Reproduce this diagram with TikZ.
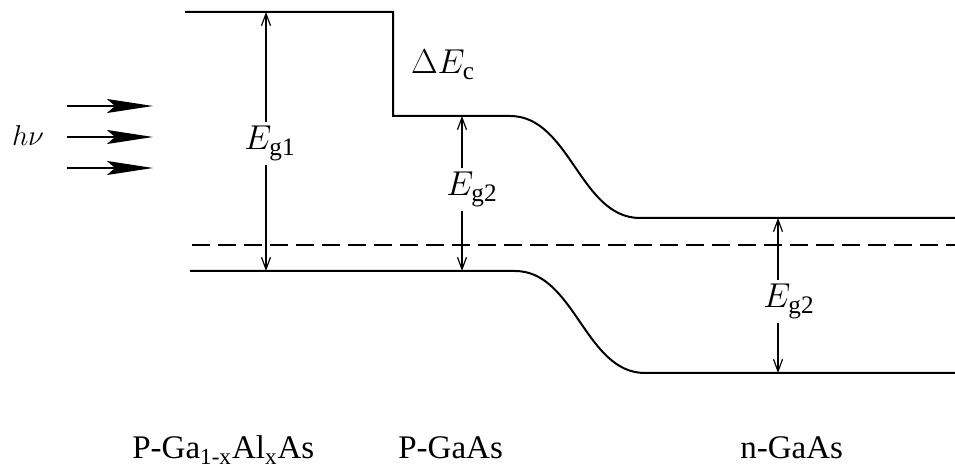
\documentclass[tikz,border=0pt]{standalone}
\usepackage{fontspec}
\setmainfont{Liberation Serif}
\usetikzlibrary{arrows.meta}
\tikzset{
  level/.style={line width=1pt},
  fermi/.style={line width=0.9pt, dash pattern=on 9pt off 4pt},
  gaparrow/.style={line width=0.6pt, -{Straight Barb[length=6pt,width=4.5pt]}},
  photon/.style={line width=0.8pt, -{Stealth[length=23pt,width=7pt,inset=4pt]}},
  elabel/.style={inner sep=2pt, font=\fontsize{18}{20}\selectfont},
  region/.style={inner sep=0pt, anchor=base west, font=\fontsize{16.5}{18}\selectfont},
}
\begin{document}
\begin{tikzpicture}[x=0.5pt, y=-0.5pt]
\useasboundingbox (0,0) rectangle (955,469);
% conduction band
\draw[level] (185,12) -- (393,12) -- (393,116) -- (510,116)
  .. controls (570,116) and (580,218) .. (640,218) -- (955,218);
% Fermi level
\draw[fermi] (192,245) -- (955,245);
% valence band
\draw[level] (190,271) -- (515,271)
  .. controls (575,271) and (585,373) .. (645,373) -- (955,373);

% level points for the gap arrows
\coordinate (t1) at (266,12);  \coordinate (b1) at (266,271);
\coordinate (t2) at (462,116); \coordinate (b2) at (462,271);
\coordinate (t3) at (778,218); \coordinate (b3) at (778,373);

% gap labels
\node[elabel, anchor=base] (eg1) at (270,150) {$E_{\mathrm{g1}}$};
\node[elabel, anchor=base] (eg2) at (472,196) {$E_{\mathrm{g2}}$};
\node[elabel, anchor=base] (eg3) at (789,308) {$E_{\mathrm{g2}}$};
\node[elabel, anchor=base] (dec) at (443,74) {$\Delta E_{\mathrm{c}}$};

\draw[gaparrow] (eg1.north -| t1) -- (t1);
\draw[gaparrow] (eg1.south -| b1) -- (b1);
\draw[gaparrow] (eg2.north -| t2) -- (t2);
\draw[gaparrow] (eg2.south -| b2) -- (b2);
\draw[gaparrow] (eg3.north -| t3) -- (t3);
\draw[gaparrow] (eg3.south -| b3) -- (b3);

% photons
\node[inner sep=0pt, anchor=base, font=\fontsize{15.5}{17}\selectfont] (hnu) at (28,146) {$h\nu$};
\coordinate (p1s) at (67,106);  \coordinate (p1e) at (153,106);
\coordinate (p2s) at (67,137);  \coordinate (p2e) at (153,137);
\coordinate (p3s) at (67,168);  \coordinate (p3e) at (153,168);
\draw[photon] (p1s) -- (p1e);
\draw[photon] (p2s) -- (p2e);
\draw[photon] (p3s) -- (p3e);

% region labels
\node[region] (r1) at (132,459) {P-Ga\textsubscript{1-x}Al\textsubscript{x}As};
\node[region] (r2) at (398,459) {P-GaAs};
\node[region] (r3) at (740,459) {n-GaAs};
\end{tikzpicture}
\end{document}
